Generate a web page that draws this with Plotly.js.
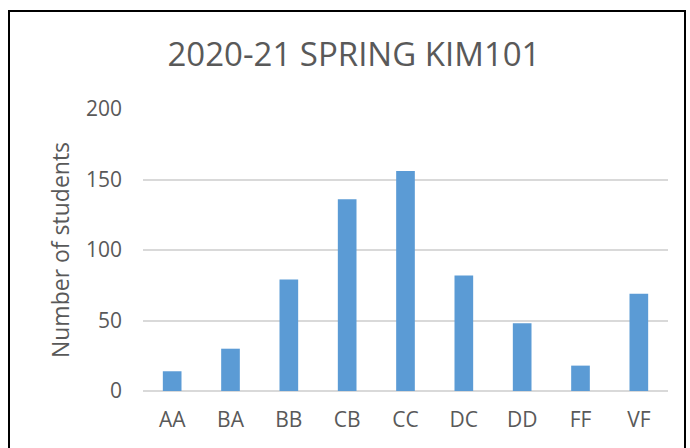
<!DOCTYPE html>
<html>
<head>
<meta charset="utf-8">
<script src="https://cdn.plot.ly/plotly-3.0.1.min.js"></script>
<style>
html,body{margin:0;padding:0;background:#fff;}
#wrap{position:relative;width:690px;height:448px;}
#chart{width:690px;height:448px;}
#frame{position:absolute;left:8px;top:10px;width:678px;height:460px;border:2px solid #000;pointer-events:none;box-sizing:border-box;}
</style>
</head>
<body>
<div id="wrap">
<div id="chart"></div>
<div id="frame"></div>
</div>
<script>
const categories = ["AA","BA","BB","CB","CC","DC","DD","FF","VF"];
const students = [14, 30, 79, 136, 156, 82, 48, 18, 69];
const yTicks = [0, 50, 100, 150, 200];
const chartTitle = "2020-21 SPRING KIM101";
const yTitle = "Number of students";

const fontFam = "'Open Sans', 'Noto Sans', sans-serif";
const gray = "#595959";

Plotly.newPlot("chart", [{
  type: "bar",
  x: categories,
  y: students,
  marker: {color: "#5b9bd5"},
  hoverinfo: "x+y"
}], {
  width: 690, height: 448,
  margin: {l: 143, r: 22, t: 109, b: 57},
  paper_bgcolor: "#fff", plot_bgcolor: "#fff",
  bargap: 0.68,
  showlegend: false,
  title: {text: chartTitle, font: {family: fontFam, size: 33, color: gray}, x: 0.513, xanchor: "center", y: 0.879, yanchor: "middle"},
  xaxis: {
    type: "category",
    showgrid: false, zeroline: false, showline: false,
    ticks: "", ticklabelstandoff: 14,
    tickfont: {family: fontFam, size: 21, color: gray}
  },
  yaxis: {
    range: [0, 200],
    tickvals: yTicks,
    showgrid: true, gridcolor: "#d9d9d9", gridwidth: 1.5,
    zeroline: true, zerolinecolor: "#d9d9d9", zerolinewidth: 1.5,
    showline: false, ticks: "", ticklabelstandoff: 20,
    tickfont: {family: fontFam, size: 21, color: gray},
    title: {text: yTitle, font: {family: fontFam, size: 23, color: gray}, standoff: 9}
  }
}, {displayModeBar: false});
</script>
</body>
</html>
